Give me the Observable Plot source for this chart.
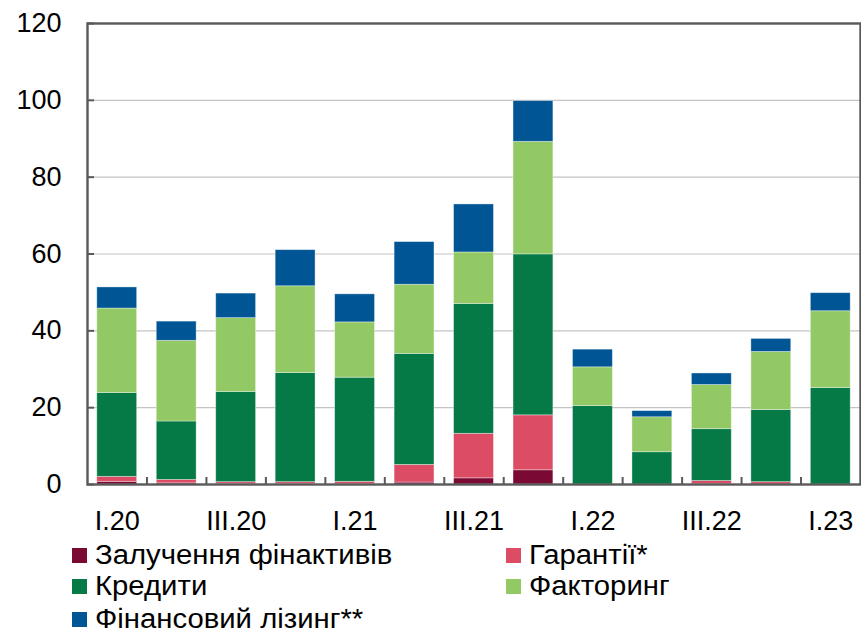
<!DOCTYPE html>
<html>
<head>
<meta charset="utf-8">
<script src="https://cdn.jsdelivr.net/npm/d3@7"></script>
<script src="https://cdn.jsdelivr.net/npm/@observablehq/plot@0.6"></script>
<style>
  html, body { margin: 0; padding: 0; background: #fff; }
  #wrap { position: relative; width: 861px; height: 631px; overflow: hidden; font-family: "Liberation Sans", Arial, sans-serif; }
  #chart svg { display: block; }
  .lg { position: absolute; display: flex; align-items: center; height: 31px; font-size: 27px; color: #000; white-space: nowrap; }
  .sw { width: 15px; height: 15px; margin-right: 8px; flex: none; }
  .tx { display: inline-block; transform: scaleX(1.085); transform-origin: left center; }
</style>
</head>
<body>
<div id="wrap">
  <div id="chart"></div>
  <div id="legend"></div>
</div>
<script>
// ---- Data ----
const categories = ["I.20","II.20","III.20","IV.20","I.21","II.21","III.21","IV.21","I.22","II.22","III.22","IV.22","I.23"];
const seriesNames = ["Залучення фінактивів","Гарантії*","Кредити","Факторинг","Фінансовий лізинг**"];
const seriesColors = ["#7A0A34","#DC4D65","#067A46","#93C965","#005695"];
const zaluchennia = [0.7, 0.3, 0.1, 0.1, 0.1, 0.5, 1.6, 3.7, 0, 0, 0.1, 0, 0];
const garantii    = [1.3, 0.9, 0.5, 0.5, 0.6, 4.6, 11.6, 14.3, 0, 0, 0.8, 0.6, 0];
const kredyty     = [21.8, 15.2, 23.5, 28.4, 27.1, 28.9, 33.8, 41.9, 20.4, 8.4, 13.5, 18.8, 25.1];
const faktoryng   = [22.0, 21.0, 19.2, 22.6, 14.4, 18.0, 13.4, 29.3, 10.1, 9.1, 11.5, 15.1, 20.0];
const lizyng      = [5.5, 5.0, 6.4, 9.4, 7.3, 11.1, 12.5, 10.6, 4.6, 1.6, 3.0, 3.4, 4.7];
const yTicks = [0, 20, 40, 60, 80, 100, 120];
const xTickLabels = ["I.20","III.20","I.21","III.21","I.22","III.22","I.23"];

const seriesValues = [zaluchennia, garantii, kredyty, faktoryng, lizyng];
const rows = [];
categories.forEach((c, i) => {
  seriesNames.forEach((s, k) => {
    rows.push({cat: c, x1: i + 1, x2: i + 2, series: s, value: seriesValues[k][i]});
  });
});
const labelRows = categories.map((c, i) => ({cat: c, pos: i + 1.5})).filter(d => xTickLabels.includes(d.cat));
const boundaries = categories.slice(1).map((c, i) => i + 2);

const W = 861, H = 540, mL = 87, mR = 1, mT = 23, mB = 56;
const innerW = W - mL - mR, innerH = H - mT - mB;

const chart = Plot.plot({
  width: W, height: H,
  marginLeft: mL, marginRight: mR, marginTop: mT, marginBottom: mB,
  style: {fontFamily: '"Liberation Sans", Arial, sans-serif', color: "#000", background: "#fff"},
  x: {type: "linear", domain: [1, categories.length + 1], axis: null},
  y: {domain: [0, 120], axis: null},
  color: {domain: seriesNames, range: seriesColors},
  marks: [
    Plot.gridY(yTicks.filter(d => d > 0 && d < 120), {stroke: "#C4C4C4", strokeOpacity: 1, strokeWidth: 1.2}),
    Plot.rectY(rows, Plot.stackY({x1: "x1", x2: "x2", y: "value", fill: "series", insetLeft: 9.8, insetRight: 9.8, stroke: "#ffffff", strokeOpacity: 0.45, strokeWidth: 0.8})),
    Plot.tickY(yTicks, {y: d => d, stroke: "#595959", strokeWidth: 2, insetRight: innerW - 7}),
    Plot.tickX(boundaries, {x: d => d, stroke: "#595959", strokeWidth: 2, insetTop: innerH - 7}),
    Plot.frame({stroke: "#595959", strokeWidth: 2.4}),
    Plot.axisY(yTicks, {tickSize: 0, tickPadding: 26, fontSize: 27, fill: "#000", label: null}),
    Plot.text(labelRows, {x: "pos", text: "cat", frameAnchor: "bottom", lineAnchor: "middle", dy: 37, fontSize: 27, fill: "#000"})
  ]
});
document.getElementById("chart").appendChild(chart);

// ---- Legend ----
const legendPos = [
  {left: 72, top: 540}, {left: 506, top: 540},
  {left: 72, top: 571}, {left: 506, top: 571},
  {left: 72, top: 604}
];
const legend = document.getElementById("legend");
seriesNames.forEach((s, k) => {
  const item = document.createElement("div");
  item.className = "lg";
  item.style.left = legendPos[k].left + "px";
  item.style.top = legendPos[k].top + "px";
  const sw = document.createElement("span");
  sw.className = "sw";
  sw.style.background = seriesColors[k];
  const tx = document.createElement("span");
  tx.className = "tx";
  tx.textContent = s;
  item.appendChild(sw);
  item.appendChild(tx);
  legend.appendChild(item);
});
</script>
</body>
</html>
